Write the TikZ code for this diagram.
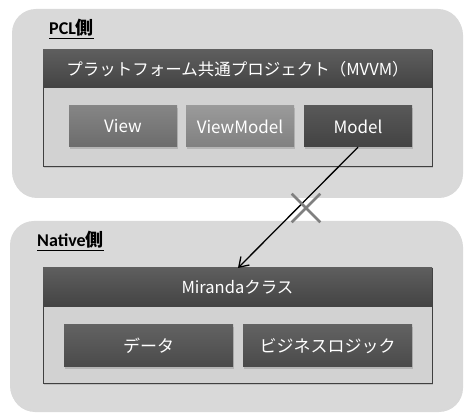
\documentclass[tikz,border=0pt]{standalone}
\usepackage{fontspec}
\setmainfont{Carlito}
\newfontfamily\cjk{Noto Sans CJK JP}
\usetikzlibrary{arrows.meta,shadows,shapes.misc}

\definecolor{panelgray}{HTML}{D9D9D9}
\definecolor{framegray}{HTML}{D2D2D2}
\definecolor{headtop}{HTML}{5E5E5E}
\definecolor{headbot}{HTML}{434343}
\definecolor{viewtop}{HTML}{858585}
\definecolor{viewbot}{HTML}{6C6C6C}
\definecolor{vmtop}{HTML}{9A9A9A}
\definecolor{vmbot}{HTML}{808080}
\definecolor{darktop}{HTML}{626262}
\definecolor{darkbot}{HTML}{4A4A4A}
\definecolor{crossgray}{HTML}{808080}

\tikzset{
  panel/.style={fill=panelgray, rounded corners=24pt, inner sep=0pt,
    drop shadow={shadow xshift=1pt, shadow yshift=-2pt, opacity=0.3}},
  frame/.style={draw=black!75, fill=framegray, line width=0.8pt, inner sep=0pt,
    drop shadow={shadow xshift=1pt, shadow yshift=-2pt, opacity=0.3}},
  head/.style={top color=headtop, bottom color=headbot, text=white,
    inner sep=0pt, font=\cjk\fontsize{16.5}{20}\selectfont},
  btn/.style={inner sep=0pt, text=white, minimum height=41pt,
    font=\cjk\fontsize{17}{20}\selectfont,
    drop shadow={shadow xshift=1pt, shadow yshift=-2pt, opacity=0.35}},
  sidelabel/.style={anchor=base west, inner sep=0pt,
    font=\bfseries\fontsize{18}{21}\selectfont},
  crossmark/.style={cross out, draw=crossgray, line width=2.6pt,
    minimum size=26pt, inner sep=0pt},
}

\begin{document}
\begin{tikzpicture}[x=1pt,y=1pt]
\useasboundingbox (0,0) rectangle (468,412);

% PCL side
\node[panel, minimum width=450pt, minimum height=187pt] (pcl) at (237,309.5) {};
\node[sidelabel] (pcllbl) at (49,377) {\underline{PCL{\cjk 側}}};
\node[frame, minimum width=389pt, minimum height=116pt] (common) at (237.5,304) {};
\node[head, minimum width=389pt, minimum height=38pt] (commonhd) at (237.5,343)
  {プラットフォーム共通プロジェクト（MVVM）};
\node[btn, minimum width=108pt, top color=viewtop, bottom color=viewbot] (view) at (123,285.5) {View};
\node[btn, minimum width=108pt, top color=vmtop, bottom color=vmbot] (viewmodel) at (240,285.5) {ViewModel};
\node[btn, minimum width=108pt, top color=darktop!90!black, bottom color=darkbot!90!black] (model) at (358,285.5) {Model};

% Native side
\node[panel, minimum width=452pt, minimum height=189pt] (native) at (236,96.5) {};
\node[sidelabel] (nativelbl) at (37,165) {\underline{Native{\cjk 側}}};
\node[frame, minimum width=389pt, minimum height=115pt] (miranda) at (237.5,86.5) {};
\node[head, minimum width=389pt, minimum height=39pt] (mirandahd) at (237.5,124.5)
  {Mirandaクラス};
\node[btn, minimum width=169pt, minimum height=42pt, top color=darktop, bottom color=darkbot] (data) at (148.5,66) {データ};
\node[btn, minimum width=169pt, minimum height=42pt, top color=darktop, bottom color=darkbot] (logic) at (327.5,66) {ビジネスロジック};

% no direct reference
\coordinate (tip) at (238,144);
\draw[line width=1.3pt, -{Straight Barb[length=9pt,width=12pt,line width=1.3pt]}]
  (model.south) -- (tip);
\node[crossmark] (ng) at (306,204) {};
\end{tikzpicture}
\end{document}
